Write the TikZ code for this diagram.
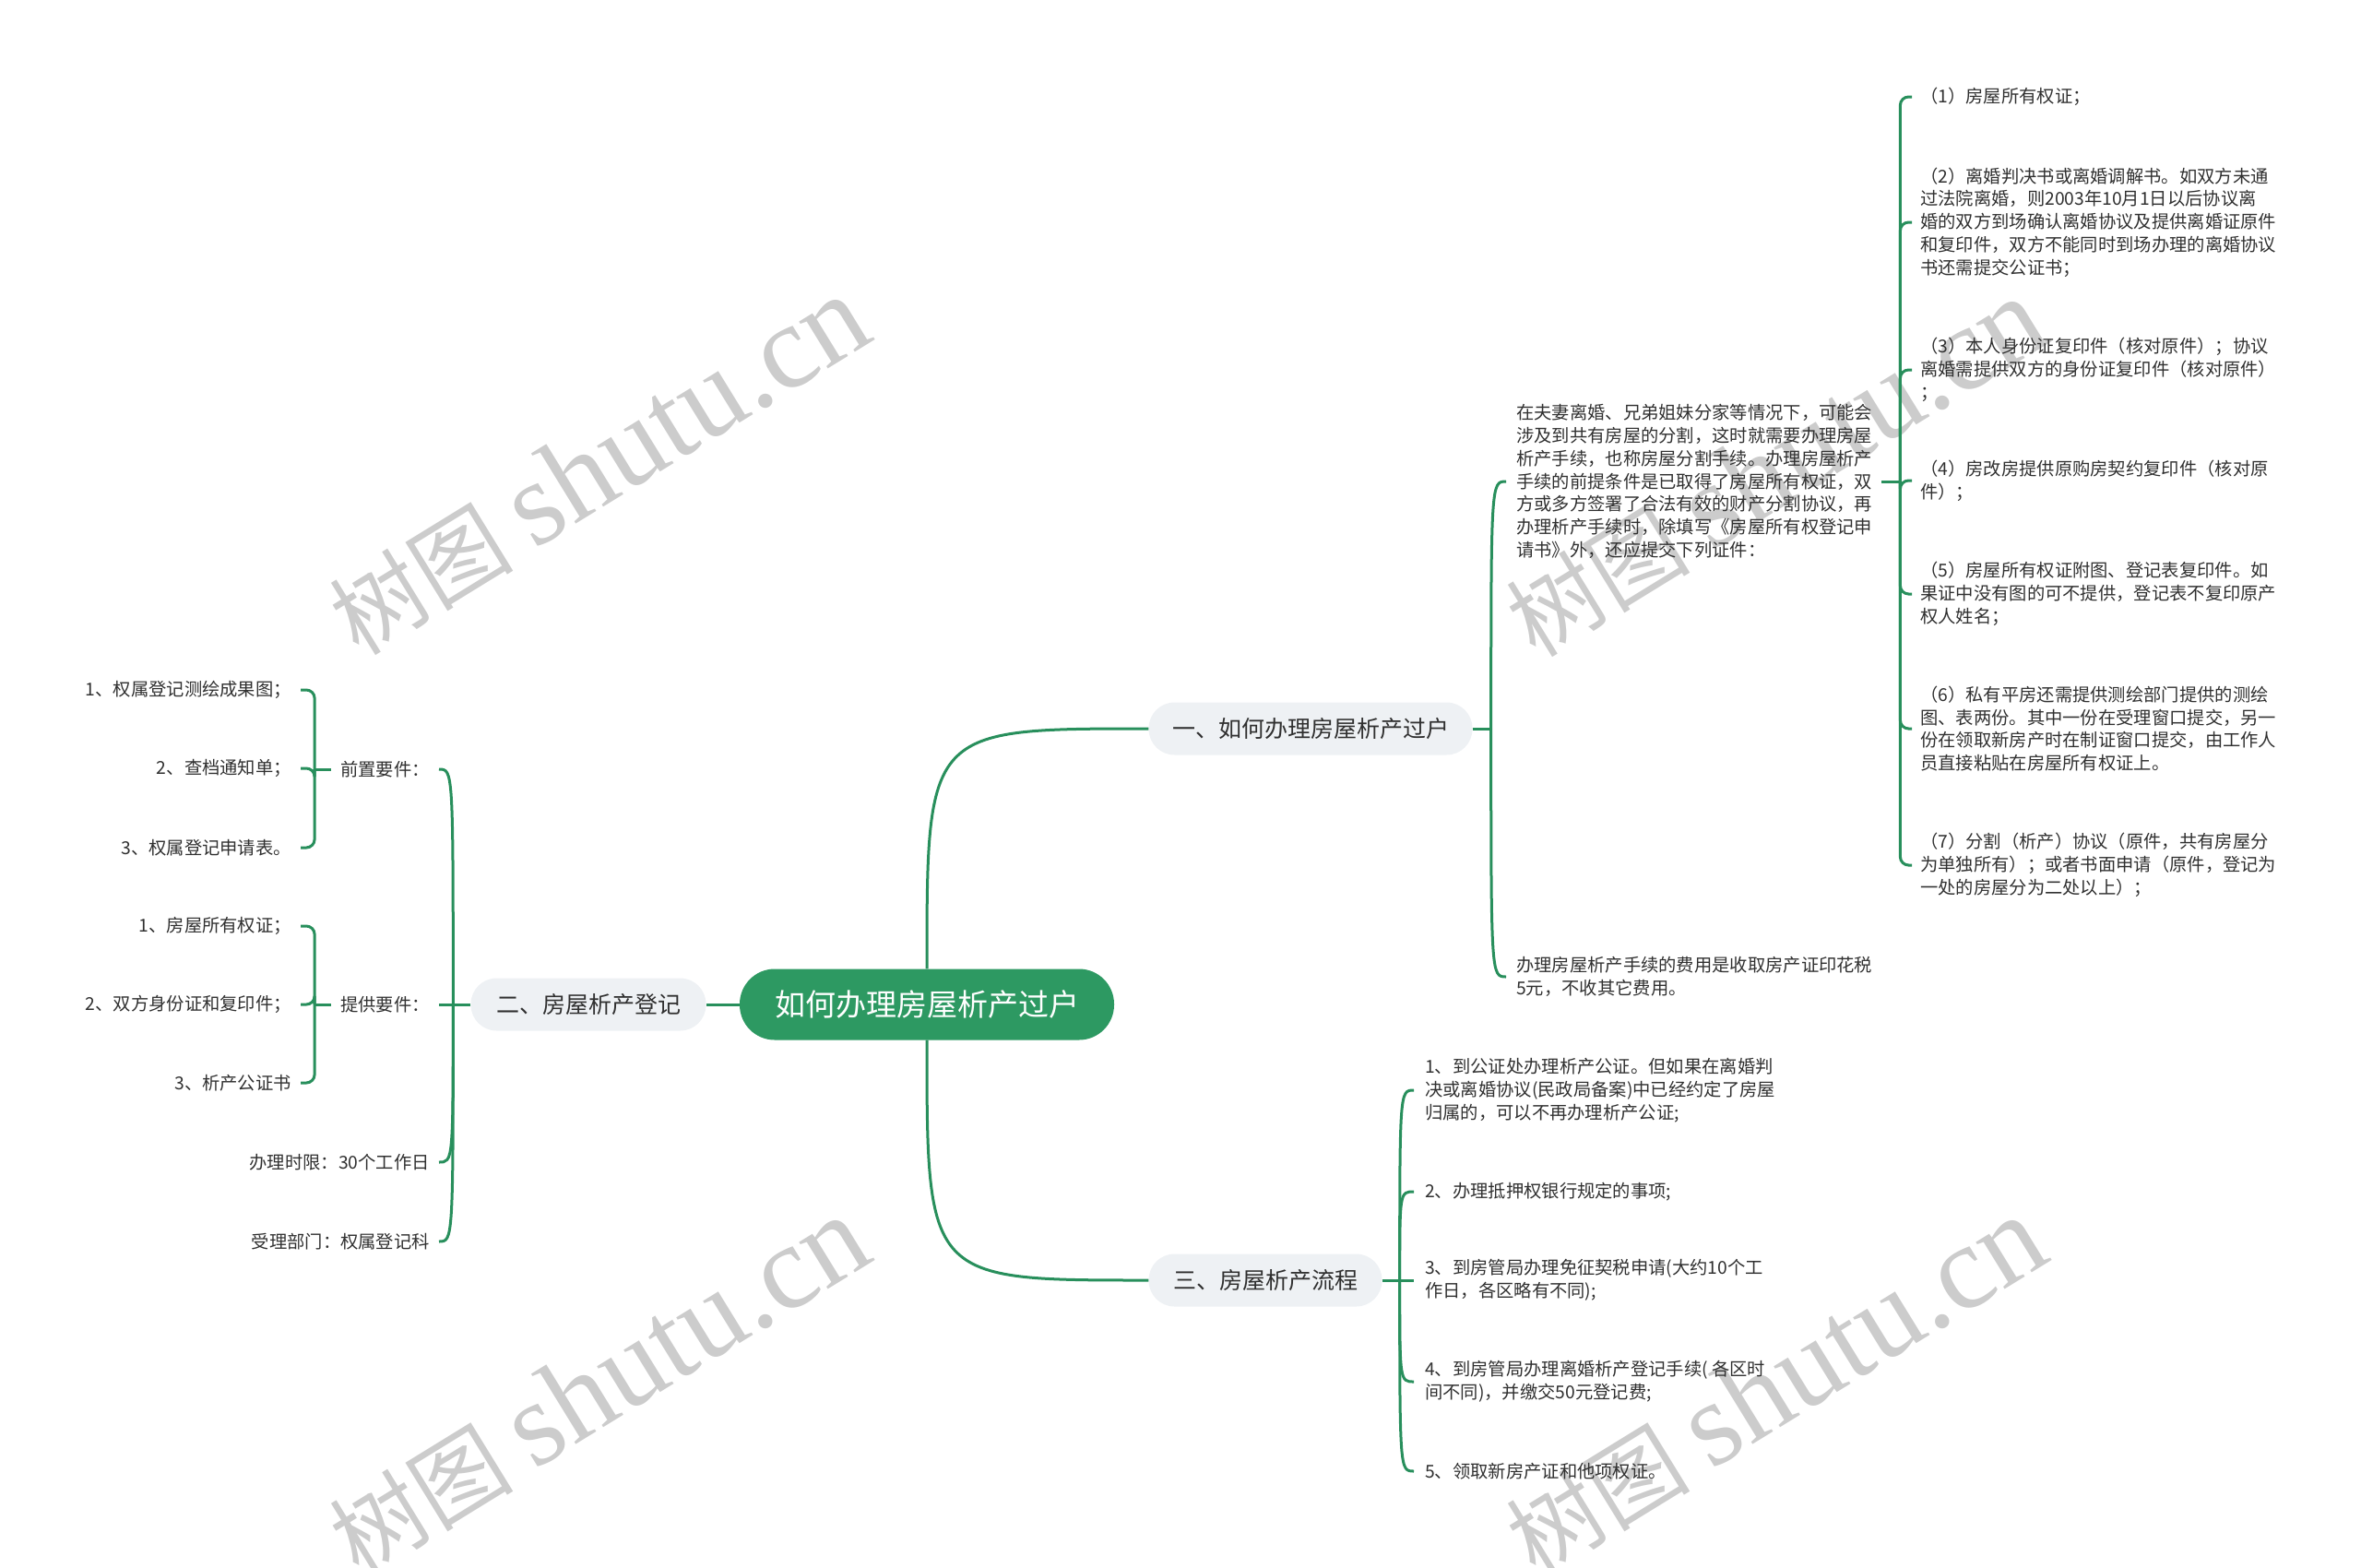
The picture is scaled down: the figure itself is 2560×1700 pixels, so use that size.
\documentclass[tikz,border=0pt]{standalone}
\usepackage{fontspec}
\setmainfont{Noto Sans CJK SC}
\newfontfamily\marcaserif{Liberation Serif}
\usetikzlibrary{arrows.meta}

\definecolor{verdArrel}{RGB}{45,153,98}
\definecolor{verdLinia}{RGB}{40,143,92}
\definecolor{grisTema}{RGB}{238,241,244}
\definecolor{textFosc}{RGB}{48,48,48}
\definecolor{grisMarca}{RGB}{204,204,204}

\begin{document}
\begin{tikzpicture}[
    x=1pt,
    y=-1pt,
    arrel/.style={
        fill=verdArrel,
        text=white,
        rounded corners=38pt,
        minimum width=406pt,
        minimum height=77pt,
        inner sep=0pt,
        font=\fontsize{33}{40}\selectfont
    },
    tema/.style={
        fill=grisTema,
        text=textFosc,
        rounded corners=28pt,
        minimum height=57pt,
        inner sep=0pt,
        font=\fontsize{25}{30}\selectfont
    },
    fulla/.style={
        text=textFosc,
        align=left,
        inner sep=0pt,
        font=\fontsize{19.3}{24.8}\selectfont
    },
    branca/.style={
        verdLinia,
        line width=3pt
    },
    clau/.style={
        verdLinia,
        line width=3pt,
        rounded corners=9pt
    },
    marca/.style={
        text=grisMarca,
        rotate=31.6,
        inner sep=0pt,
        font=\fontsize{100}{100}\selectfont
    }
]

\useasboundingbox (0,0) rectangle (2560,1700);


% Marca d'aigua

\foreach \mx/\my [count=\k] in {649/505, 649/1503, 1925/507, 1925/1503}
    \node[marca] (marca\k) at (\mx,\my)
        {树图 {\marcaserif\fontsize{130}{130}\selectfont shutu.cn}};


% Node central

\node[arrel] (arrel) at (1005,1089) {如何办理房屋析产过户};


% Temes

\node[tema, minimum width=351pt] (t1) at (1421,790) {一、如何办理房屋析产过户};
\node[tema, minimum width=255pt] (t2) at (638,1089) {二、房屋析产登记};
\node[tema, minimum width=253pt] (t3) at (1372,1388) {三、房屋析产流程};

\draw[branca] (arrel.north) .. controls (arrel.north |- t1.west) .. (t1.west);
\draw[branca] (arrel.south) .. controls (arrel.south |- t3.west) .. (t3.west);
\draw[branca] (arrel.west) -- (t2.east);


% Branca u

\node[fulla, anchor=west] (a1) at (1644,522)
    {在夫妻离婚、兄弟姐妹分家等情况下，可能会\\
     涉及到共有房屋的分割，这时就需要办理房屋\\
     析产手续，也称房屋分割手续。办理房屋析产\\
     手续的前提条件是已取得了房屋所有权证，双\\
     方或多方签署了合法有效的财产分割协议，再\\
     办理析产手续时，除填写《房屋所有权登记申\\
     请书》外，还应提交下列证件：};
\node[fulla, anchor=west] (a2) at (1644,1059)
    {办理房屋析产手续的费用是收取房产证印花税\\
     5元，不收其它费用。};

\coordinate (j1) at ([xshift=20pt]t1.east);
\draw[branca] (t1.east) -- (j1);
\foreach \f in {a1,a2}
    \draw[branca] (j1) .. controls (j1 |- \f.west) .. ([xshift=-11pt]\f.west);


% Documents

\node[fulla, anchor=west] (r1) at (2082,105) {（1）房屋所有权证；};
\node[fulla, anchor=west] (r2) at (2082,241)
    {（2）离婚判决书或离婚调解书。如双方未通\\
     过法院离婚，则2003年10月1日以后协议离\\
     婚的双方到场确认离婚协议及提供离婚证原件\\
     和复印件，双方不能同时到场办理的离婚协议\\
     书还需提交公证书；};
\node[fulla, anchor=west] (r3) at (2082,401)
    {（3）本人身份证复印件（核对原件）；协议\\
     离婚需提供双方的身份证复印件（核对原件）\\
     ；};
\node[fulla, anchor=west] (r4) at (2082,521)
    {（4）房改房提供原购房契约复印件（核对原\\
     件）；};
\node[fulla, anchor=west] (r5) at (2082,644)
    {（5）房屋所有权证附图、登记表复印件。如\\
     果证中没有图的可不提供，登记表不复印原产\\
     权人姓名；};
\node[fulla, anchor=west] (r6) at (2082,790)
    {（6）私有平房还需提供测绘部门提供的测绘\\
     图、表两份。其中一份在受理窗口提交，另一\\
     份在领取新房产时在制证窗口提交，由工作人\\
     员直接粘贴在房屋所有权证上。};
\node[fulla, anchor=west] (r7) at (2082,938)
    {（7）分割（析产）协议（原件，共有房屋分\\
     为单独所有）；或者书面申请（原件，登记为\\
     一处的房屋分为二处以上）；};

\coordinate (ja) at ([xshift=30pt]a1.east);
\draw[branca] ([xshift=10pt]a1.east) -- (ja);
\foreach \i in {1,...,7}
    \draw[clau] (ja) |- ([xshift=-9pt]r\i.west);


% Branca dos

\node[fulla, anchor=east] (e1) at (466,834) {前置要件：};
\node[fulla, anchor=east] (e2) at (466,1089) {提供要件：};
\node[fulla, anchor=east] (e3) at (466,1260) {办理时限：30个工作日};
\node[fulla, anchor=east] (e4) at (466,1346) {受理部门：权属登记科};

\coordinate (j2) at ([xshift=-19pt]t2.west);
\draw[branca] (t2.west) -- (j2);
\foreach \f in {e1,e2,e3,e4}
    \draw[branca] (j2) .. controls (j2 |- \f.east) .. ([xshift=10pt]\f.east);

\node[fulla, anchor=east] (q1) at (316,748) {1、权属登记测绘成果图；};
\node[fulla, anchor=east] (q2) at (316,833) {2、查档通知单；};
\node[fulla, anchor=east] (q3) at (316,919) {3、权属登记申请表。};

\node[fulla, anchor=east] (s1) at (316,1004) {1、房屋所有权证；};
\node[fulla, anchor=east] (s2) at (316,1089) {2、双方身份证和复印件；};
\node[fulla, anchor=east] (s3) at (316,1174) {3、析产公证书};

\coordinate (k1) at ([xshift=-28pt]e1.west);
\draw[branca] ([xshift=-10pt]e1.west) -- (k1);
\foreach \f in {q1,q2,q3}
    \draw[clau] (k1) |- ([xshift=10pt]\f.east);

\coordinate (k2) at ([xshift=-28pt]e2.west);
\draw[branca] ([xshift=-10pt]e2.west) -- (k2);
\foreach \f in {s1,s2,s3}
    \draw[clau] (k2) |- ([xshift=10pt]\f.east);


% Branca tres

\node[fulla, anchor=west] (p1) at (1545,1182)
    {1、到公证处办理析产公证。但如果在离婚判\\
     决或离婚协议(民政局备案)中已经约定了房屋\\
     归属的，可以不再办理析产公证;};
\node[fulla, anchor=west] (p2) at (1545,1292) {2、办理抵押权银行规定的事项;};
\node[fulla, anchor=west] (p3) at (1545,1388)
    {3、到房管局办理免征契税申请(大约10个工\\
     作日，各区略有不同);};
\node[fulla, anchor=west] (p4) at (1545,1498)
    {4、到房管局办理离婚析产登记手续( 各区时\\
     间不同)，并缴交50元登记费;};
\node[fulla, anchor=west] (p5) at (1545,1595) {5、领取新房产证和他项权证。};

\coordinate (j3) at ([xshift=19pt]t3.east);
\draw[branca] (t3.east) -- (j3);
\foreach \f in {p1,p2,p3,p4,p5}
    \draw[branca] (j3) .. controls (j3 |- \f.west) .. ([xshift=-12pt]\f.west);

\end{tikzpicture}
\end{document}
